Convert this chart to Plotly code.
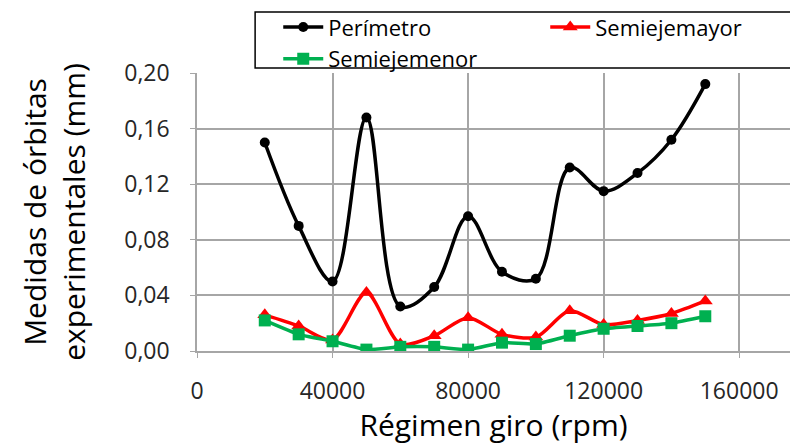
import plotly.graph_objects as go

# regimen de giro (rpm)
rpm = [20000, 30000, 40000, 50000, 60000, 70000, 80000,
       90000, 100000, 110000, 120000, 130000, 140000, 150000]

perimetro = [0.150, 0.090, 0.050, 0.168, 0.032, 0.046, 0.097,
             0.057, 0.052, 0.132, 0.115, 0.128, 0.152, 0.192]
semieje_mayor = [0.026, 0.018, 0.008, 0.042, 0.005, 0.011, 0.024,
                 0.012, 0.010, 0.029, 0.019, 0.022, 0.027, 0.036]
semieje_menor = [0.022, 0.012, 0.007, 0.001, 0.003, 0.003, 0.001,
                 0.006, 0.005, 0.011, 0.016, 0.018, 0.020, 0.025]

font = "'Open Sans', sans-serif"

fig = go.Figure()
fig.add_trace(go.Scatter(
    x=rpm, y=perimetro, name="Perímetro",
    mode='lines+markers',
    line=dict(color='black', width=3.5, shape='spline', smoothing=1),
    marker=dict(symbol='circle', size=10, color='black'),
))
fig.add_trace(go.Scatter(
    x=rpm, y=semieje_mayor, name="Semiejemayor",
    mode='lines+markers',
    line=dict(color='#ff0000', width=3.5, shape='spline', smoothing=0.8),
    marker=dict(symbol='triangle-up', size=13, color='#ff0000'),
))
fig.add_trace(go.Scatter(
    x=rpm, y=semieje_menor, name="Semiejemenor",
    mode='lines+markers',
    line=dict(color='#00b050', width=3.5, shape='spline', smoothing=0.5),
    marker=dict(symbol='square', size=12, color='#00b050'),
))

# recuadro de la leyenda
fig.add_shape(type='rect', xref='paper', yref='paper',
              x0=0.098, x1=1.005, y0=1.018, y1=1.219,
              line=dict(color='black', width=1.5), layer='above')

# la pagina deja 8 px de margen en el body: se compensa aqui
fig.update_layout(
    width=790, height=437,
    margin=dict(l=189, r=8, t=65, b=94, autoexpand=False),
    paper_bgcolor='white', plot_bgcolor='white',
    separators=", ",
    font=dict(family=font, color='black'),
    showlegend=True,
    legend=dict(
        orientation='h', x=0.137, y=1.24, xanchor='left', yanchor='top',
        entrywidth=212, entrywidthmode='pixels', itemwidth=40,
        font=dict(size=22, family=font), bgcolor='rgba(0,0,0,0)',
        tracegroupgap=0,
    ),
    xaxis=dict(
        range=[0, 175000], tickvals=[0, 40000, 80000, 120000, 160000],
        tickformat='d', showgrid=True, gridcolor='#a6a6a6', gridwidth=1.5,
        showline=True, linecolor='#a6a6a6', linewidth=1.5,
        ticks='outside', ticklen=5, tickcolor='#a6a6a6',
        tickfont=dict(size=23, color='#262626'), ticklabelstandoff=14,
        title=dict(text='Régimen giro (rpm)', font=dict(size=30), standoff=2),
        zeroline=False,
    ),
    yaxis=dict(
        range=[0, 0.2], tickvals=[0, 0.04, 0.08, 0.12, 0.16, 0.20],
        tickformat='.2f', showgrid=True, gridcolor='#a6a6a6', gridwidth=1.5,
        showline=True, linecolor='#a6a6a6', linewidth=1.5,
        ticks='outside', ticklen=5, tickcolor='#a6a6a6',
        tickfont=dict(size=23, color='#262626'), ticklabelstandoff=16,
        title=dict(text='Medidas de órbitas<br>experimentales (mm)',
                   font=dict(size=30), standoff=30),
        zeroline=False,
    ),
)

fig.write_html("out.html")
